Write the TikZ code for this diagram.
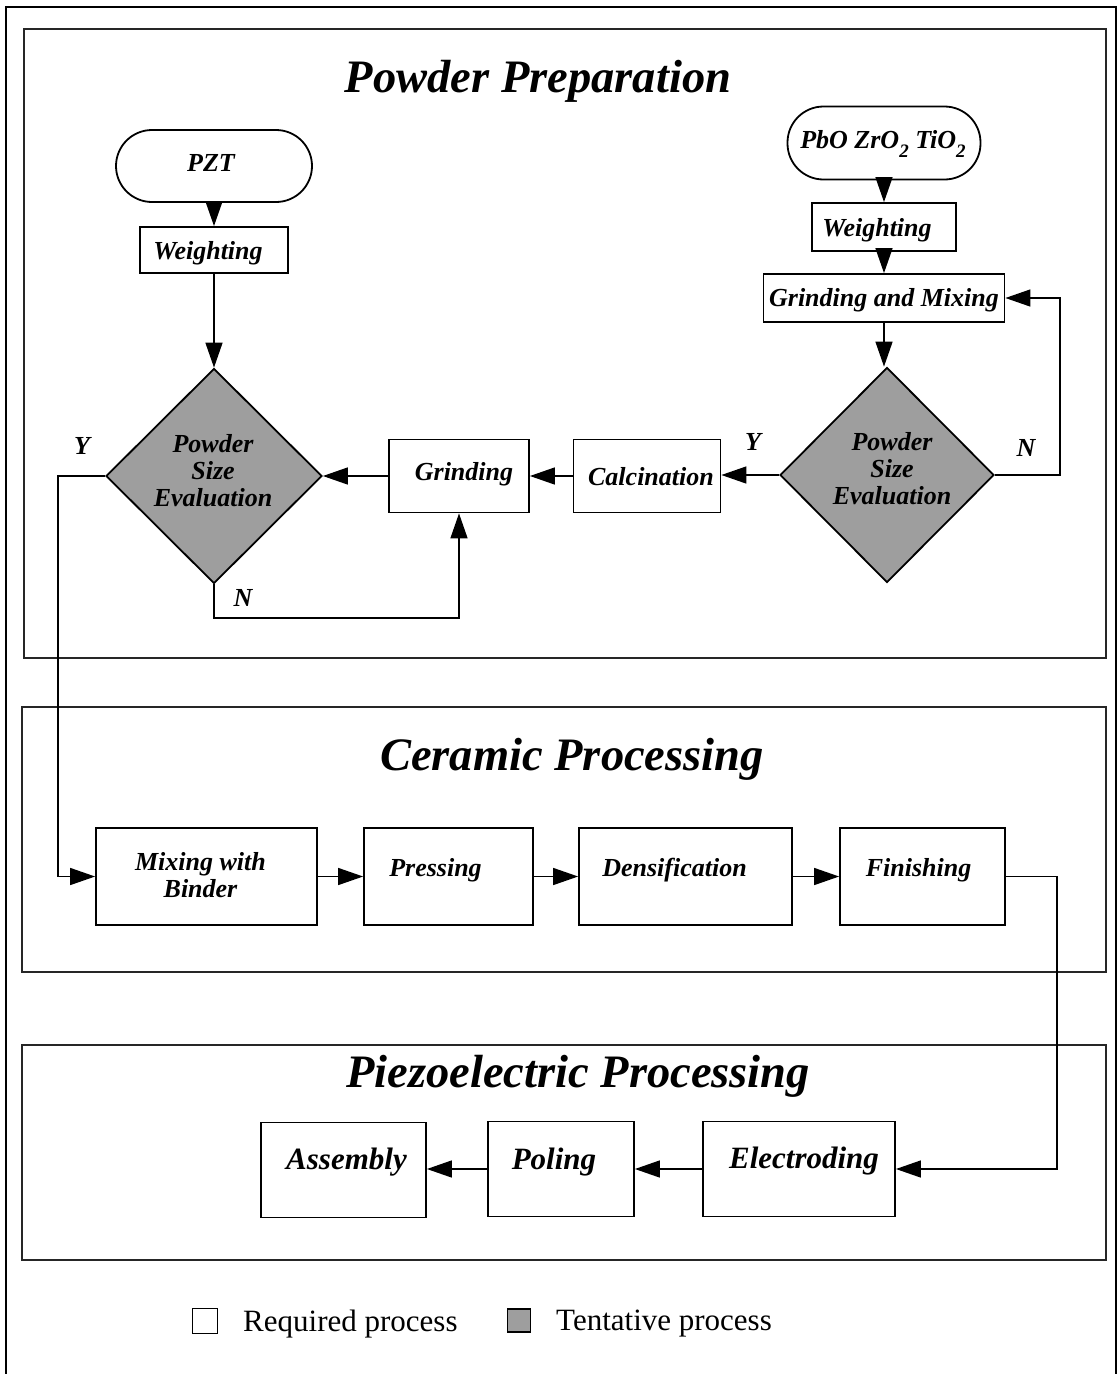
\documentclass[tikz,border=0pt]{standalone}
\usepackage{fontspec}
\setmainfont{Liberation Serif}
\usetikzlibrary{arrows.meta,shapes.geometric}
% lowered subscript in the current (bold italic) face
\newcommand\chemsub[1]{\raisebox{-0.32em}{\fontsize{19}{19}\selectfont #1}}
\begin{document}
\begin{tikzpicture}[x=1pt,y=-1pt,
  panel/.style={draw=black!85, line width=2.4pt},
  box/.style={draw, line width=1.8pt, inner sep=0pt, fill=white},
  stadium/.style={box, rounded corners=36pt},
  decision/.style={draw, line width=1.8pt, diamond, inner sep=0pt,
    fill=black!38, minimum width=216pt, minimum height=215pt},
  lbl/.style={font=\bfseries\itshape\fontsize{26}{27}\selectfont, align=center, inner sep=0pt},
  biglbl/.style={font=\bfseries\itshape\fontsize{31}{33}\selectfont, align=center, inner sep=0pt},
  title/.style={font=\bfseries\itshape\fontsize{46.5}{50}\selectfont, inner sep=0pt},
  yn/.style={font=\bfseries\itshape\fontsize{26}{27}\selectfont, inner sep=0pt},
  legend/.style={font=\fontsize{31}{36}\selectfont, inner sep=0pt, anchor=west},
  wire/.style={line width=1.5pt},
  arr/.style={line width=1.5pt, -{Triangle[length=25pt,width=17pt]}},
]
% page and outer frame
\useasboundingbox (0,0) rectangle (1119,1374);
\fill[white] (0,0) rectangle (1119,1374);
\draw[line width=1.5pt] (6,1400) -- (6,7) -- (1116,7) -- (1116,1400);

% the three process panels
\draw[panel] (24,29) rectangle (1106,658);
\draw[panel] (22,707) rectangle (1106,972);
\draw[panel] (22,1045) rectangle (1106,1260);

\node[title] (tPowder)  at (538,81)   {Powder Preparation};
\node[title] (tCeramic) at (572,759)  {Ceramic Processing};
\node[title] (tPiezo)   at (578,1076) {Piezoelectric Processing};

% ---- powder preparation, left branch
\node[stadium, minimum width=196pt, minimum height=72pt,
      label={[lbl, xshift=-3, yshift=3]center:PZT}] (pzt) at (214,166) {};
\node[box, minimum width=148pt, minimum height=46pt,
      label={[lbl, xshift=-6, yshift=-3]center:Weighting}] (wL) at (214,250) {};
\node[decision, label={[lbl, xshift=-1, yshift=5]center:Powder\\Size\\Evaluation}] (dL) at (214,476) {};
\node[box, minimum width=140pt, minimum height=73pt,
      label={[lbl, xshift=5, yshift=2]center:Grinding}] (grind) at (459,476) {};
\node[box, minimum width=147pt, minimum height=73pt,
      label={[lbl, xshift=4, yshift=-1]center:Calcination}] (calc) at (647,476) {};

% ---- powder preparation, right branch
\node[stadium, minimum width=193pt, minimum height=73pt,
      label={[lbl, xshift=-1, yshift=-1]center:PbO ZrO\chemsub{2} TiO\chemsub{2}}] (pbo) at (884,143) {};
\node[box, minimum width=144pt, minimum height=48pt,
      label={[lbl, xshift=-7, yshift=-3]center:Weighting}] (wR) at (884,227) {};
\node[box, minimum width=241pt, minimum height=48pt,
      label={[lbl, yshift=-2]center:Grinding and Mixing}] (gm) at (884,298) {};
\node[decision, minimum width=214pt, label={[lbl, xshift=5, yshift=6]center:Powder\\Size\\Evaluation}] (dR) at (887,475) {};

% ---- ceramic processing
\node[box, minimum width=221pt, minimum height=97pt,
      label={[lbl, xshift=-6, yshift=1]center:Mixing with\\Binder}] (mix) at (206.5,876.5) {};
\node[box, minimum width=169pt, minimum height=97pt,
      label={[lbl, xshift=-13, yshift=6]center:Pressing}] (press) at (448.5,876.5) {};
\node[box, minimum width=213pt, minimum height=97pt,
      label={[lbl, xshift=-11, yshift=6]center:Densification}] (dens) at (685.5,876.5) {};
\node[box, minimum width=165pt, minimum height=97pt,
      label={[lbl, xshift=-4, yshift=6]center:Finishing}] (fin) at (922.5,876.5) {};

% ---- piezoelectric processing
\node[box, minimum width=165pt, minimum height=95pt,
      label={[biglbl, xshift=3, yshift=8]center:Assembly}] (asm) at (343.5,1170) {};
\node[box, minimum width=146pt, minimum height=95pt,
      label={[biglbl, xshift=-7, yshift=7]center:Poling}] (pol) at (561,1169) {};
\node[box, minimum width=192pt, minimum height=95pt,
      label={[biglbl, xshift=5, yshift=8]center:Electroding}] (elec) at (799,1169) {};

% ---- turning points of the routed connectors
\coordinate (yturn) at (58,476);
\coordinate (nturn) at (214,618);
\coordinate (rturn) at (1060,475);
\coordinate (fturn) at (1057,876.5);

% ---- connectors
\draw[arr] (pzt.south) -- (wL.north);
\draw[arr] (wL.south) -- (dL.north);
\draw[arr] (pbo.south) -- (wR.north);
\draw[arr] (wR.south) -- (gm.north);
\draw[arr] (gm.south) -- (gm.south |- dR.north);
\draw[arr] (dR.west) -- (dR.west -| calc.east);
\draw[arr] (dR.east) -- (rturn) |- (gm.east);
\draw[arr] (calc.west) -- (grind.east);
\draw[arr] (grind.west) -- (dL.east);
\draw[arr] (dL.south) -- (nturn) -| (grind.south);
\draw[arr] (dL.west) -- (yturn) |- (mix.west);
\draw[arr] (mix.east) -- (press.west);
\draw[arr] (press.east) -- (dens.west);
\draw[arr] (dens.east) -- (fin.west);
\draw[arr] (fin.east) -- (fturn) |- (elec.east);
\draw[arr] (elec.west) -- (pol.east);
\draw[arr] (pol.west) -- (pol.west -| asm.east);

% ---- branch labels
\node[yn] (yL) at (82,446)  {Y};
\node[yn] (nL) at (243,598) {N};
\node[yn] (yR) at (753,442) {Y};
\node[yn] (nR) at (1026,448) {N};

% ---- legend
\node[box, line width=1.5pt, minimum size=25pt] (lgReq) at (205,1321) {};
\node[legend] (lgReqT) at (243,1324) {Required process};
\node[box, line width=1.5pt, minimum size=23pt, fill=black!38] (lgTen) at (519,1320.5) {};
\node[legend] (lgTenT) at (556,1324) {Tentative process};
\end{tikzpicture}
\end{document}
